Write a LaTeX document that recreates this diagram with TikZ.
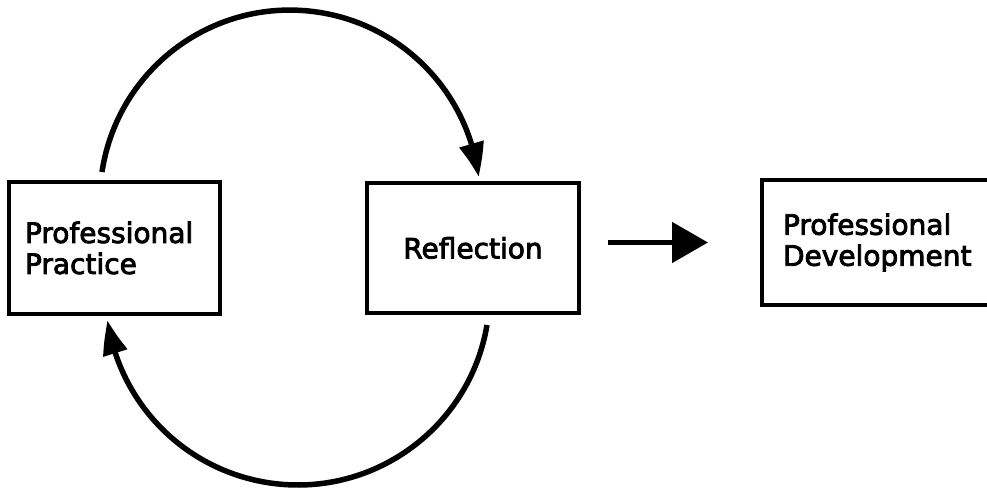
\documentclass[tikz,border=0pt]{standalone}
\usepackage{fontspec}
\setmainfont{DejaVu Sans}
\newfontfamily\boxfont[BoldFont={DejaVu Sans}, BoldFeatures={FakeBold=3}]{DejaVu Sans}
\usetikzlibrary{arrows.meta,bending,calc}
\begin{document}
\begin{tikzpicture}[x=1pt,y=-1pt,
  boxstyle/.style={draw=black, line width=4pt, rectangle, fill=white,
    font=\boxfont\bfseries\fontsize{28}{31}\selectfont, inner ysep=0pt},
  curvearrow/.style={line width=5.5pt, -{Triangle[length=34pt,width=24pt,bend]}},
  straightarrow/.style={line width=5pt, -{Triangle[length=36pt,width=40pt]}}]
\useasboundingbox (0,0) rectangle (987,489);
\fill[white] (0,0) rectangle (987,489);
\clip (0,0) rectangle (987,489);
% boxes
\node[boxstyle, minimum width=211pt, minimum height=132pt, inner xsep=16pt,
      text width=179pt, align=left] (pp) at (114.5,248) {Professional\\Practice};
\node[boxstyle, minimum width=212pt, minimum height=130pt] (rf) at (473,248) {Reflection};
\node[boxstyle, minimum width=240pt, minimum height=125pt, inner xsep=21pt,
      text width=198pt, align=left] (pd) at (882,242.5) {Professional\\Development};
% arc start points
\coordinate (t1) at (102,172);
\coordinate (b1) at (487,325);
% connectors
\draw[curvearrow] (t1) arc[start angle=-171.5, end angle=-7, radius=190];
\draw[curvearrow] (b1) arc[start angle=9.6, end angle=171.8, radius=192];
\draw[straightarrow, shorten <=27pt, shorten >=52pt] (pd.west -| rf.east) -- (pd.west);
\end{tikzpicture}
\end{document}
